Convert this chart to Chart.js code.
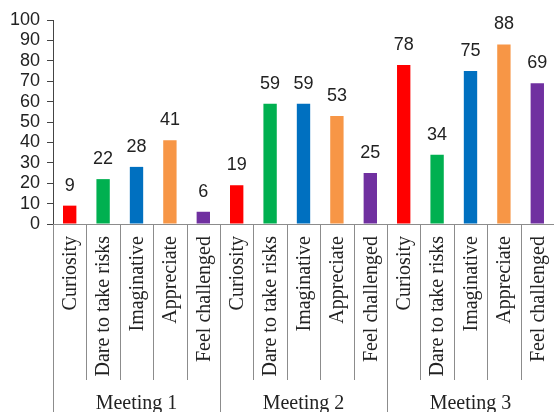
<!DOCTYPE html>
<html>
<head>
<meta charset="utf-8">
<script src="https://cdn.jsdelivr.net/npm/chart.js@4.4.1/dist/chart.umd.min.js"></script>
<style>
  html, body { margin: 0; padding: 0; background: #fff; }
  #chart { display: block; }
</style>
</head>
<body>
<canvas id="chart" width="554" height="412"></canvas>
<script>
// Data
const categories = ['Curiosity', 'Dare to take risks', 'Imaginative', 'Appreciate', 'Feel challenged'];
const meetings   = ['Meeting 1', 'Meeting 2', 'Meeting 3'];
const meeting1   = [9, 22, 28, 41, 6];
const meeting2   = [19, 59, 59, 53, 25];
const meeting3   = [78, 34, 75, 88, 69];
const yTicks     = [0, 10, 20, 30, 40, 50, 60, 70, 80, 90, 100];

// Colour palette
const C = {
  cats:  ['#ff0000', '#00b050', '#0070c0', '#f79646', '#7030a0'],
  axis:  '#444444',
  sep:   '#8c8c8c',
  text:  '#222222',
};

const SANS  = "'Liberation Sans', Arial, sans-serif";
const SERIF = "'Liberation Serif', 'Times New Roman', serif";

const labels = [];
const values = [];
const colors = [];
[meeting1, meeting2, meeting3].forEach((arr) => {
  arr.forEach((v, i) => {
    labels.push(categories[i]);
    values.push(v);
    colors.push(C.cats[i]);
  });
});

// Value labels, rotated category labels, separators and group labels
const decorations = {
  id: 'decorations',
  afterDatasetsDraw(chart) {
    const { ctx, chartArea, scales } = chart;
    const x = scales.x;
    const meta = chart.getDatasetMeta(0);
    const bottom = chartArea.bottom;
    const H = chart.height;
    const step = (chartArea.right - chartArea.left) / labels.length;

    ctx.save();

    // values above bars
    ctx.font = `18px ${SANS}`;
    ctx.fillStyle = C.text;
    ctx.textAlign = 'center';
    ctx.textBaseline = 'alphabetic';
    meta.data.forEach((bar, i) => {
      ctx.fillText(String(values[i]), bar.x, bar.y - 15);
    });

    // separators
    ctx.strokeStyle = C.sep;
    ctx.lineWidth = 1;
    for (let i = 0; i <= labels.length; i++) {
      const px = Math.round(chartArea.left + i * step) + 0.5;
      const isGroup = i % categories.length === 0;
      ctx.beginPath();
      ctx.moveTo(px, bottom);
      ctx.lineTo(px, isGroup ? H : 380);
      ctx.stroke();
    }

    // rotated category labels
    ctx.font = `20px ${SERIF}`;
    ctx.fillStyle = C.text;
    ctx.textAlign = 'right';
    ctx.textBaseline = 'middle';
    labels.forEach((lab, i) => {
      const px = x.getPixelForValue(i);
      ctx.save();
      ctx.translate(px + 1, bottom + 12);
      ctx.rotate(-Math.PI / 2);
      ctx.fillText(lab, 0, 0);
      ctx.restore();
    });

    // meeting labels
    ctx.textAlign = 'center';
    meetings.forEach((m, g) => {
      const cx = chartArea.left + (g * categories.length + categories.length / 2) * step;
      ctx.fillText(m, cx, 404);
    });

    ctx.restore();
  },
};

new Chart(document.getElementById('chart'), {
  type: 'bar',
  data: {
    labels,
    datasets: [{
      data: values,
      backgroundColor: colors,
      borderWidth: 0,
      categoryPercentage: 1,
      barPercentage: 0.4,
    }],
  },
  options: {
    responsive: false,
    animation: false,
    layout: { padding: { top: 20, right: 0, bottom: 188, left: 0 } },
    plugins: { legend: { display: false }, tooltip: { enabled: false } },
    scales: {
      x: {
        ticks: { display: false },
        grid: { display: false },
        border: { display: true, color: C.sep, width: 1 },
        afterFit(scale) { scale.height = 0; },
      },
      y: {
        min: 0,
        max: 100,
        afterBuildTicks(scale) { scale.ticks = yTicks.map((v) => ({ value: v })); },
        ticks: {
          autoSkip: false,
          padding: 7,
          color: C.text,
          font: { family: SANS, size: 18 },
        },
        grid: { drawOnChartArea: false, drawTicks: true, tickLength: 6, color: C.axis },
        border: { display: true, color: C.axis, width: 1 },
        afterFit(scale) { scale.width = 53; },
      },
    },
  },
  plugins: [decorations],
});
</script>
</body>
</html>
